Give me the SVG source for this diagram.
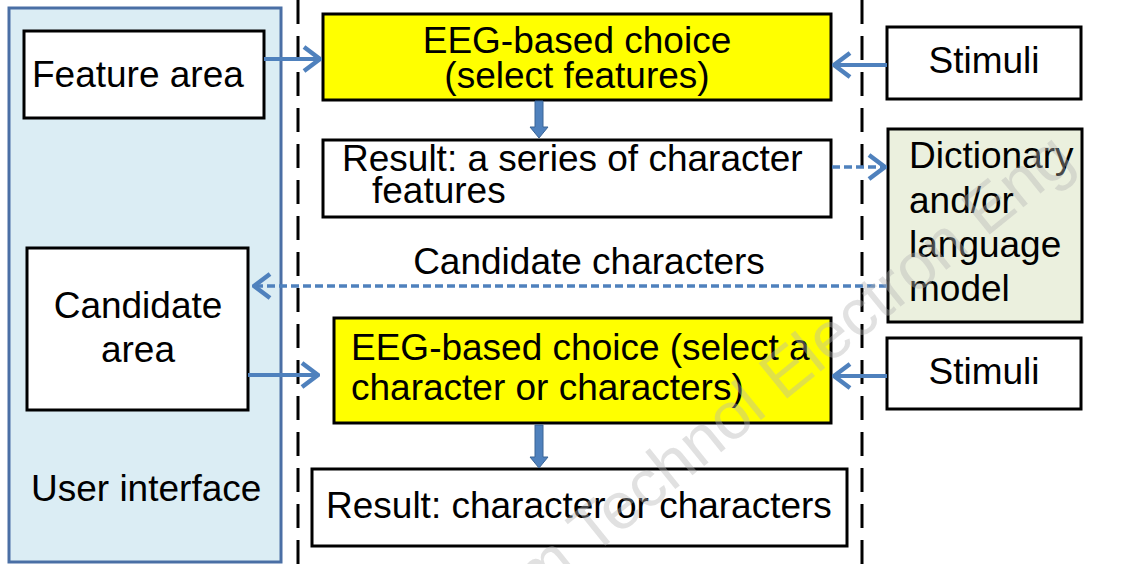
<svg xmlns="http://www.w3.org/2000/svg" width="1122" height="564" viewBox="0 0 1122 564">
  <defs>
    <style>
      .box { fill: #ffffff; stroke: #000000; stroke-width: 3; }
      .hl { fill: #ffff00; stroke: #000000; stroke-width: 3; }
      .dict { fill: #ebf0de; stroke: #000000; stroke-width: 3; }
      .panel { fill: #dbedf4; stroke: #4a6fa5; stroke-width: 3; }
      .lbl { font-family: "Liberation Sans", Arial, sans-serif; font-size: 37px; fill: #000000; }
      .mid { text-anchor: middle; }
      .sep { stroke: #000000; stroke-width: 3; stroke-dasharray: 24 12; fill: none; }
      .flow { stroke: #4f81bd; stroke-width: 4; fill: none; marker-end: url(#chev); }
      .dash { stroke: #4f81bd; stroke-width: 3.5; stroke-dasharray: 8 4; fill: none; marker-end: url(#chev); }
      .down { fill: #4f81bd; stroke: #3a6496; stroke-width: 1; }
      .mark { font-family: "Liberation Sans", Arial, sans-serif; font-size: 66px; fill: #b4b4b4; fill-opacity: 0.4; }
    </style>
    <marker id="chev" markerUnits="userSpaceOnUse" viewBox="0 0 20 28" refX="18" refY="14" markerWidth="20" markerHeight="28" orient="auto">
      <path d="M2,2 L18,14 L2,26" fill="none" stroke="#4f81bd" stroke-width="4.5" stroke-linejoin="miter"/>
    </marker>
  </defs>

  <rect width="1122" height="564" fill="#ffffff"/>

  <!-- column separators -->
  <g id="separators">
    <line class="sep" x1="298" y1="0" x2="298" y2="564"/>
    <line class="sep" x1="862" y1="0" x2="862" y2="564"/>
  </g>

  <!-- user interface panel -->
  <g id="user-interface">
    <rect class="panel" x="9" y="8" width="272" height="554"/>
    <text class="lbl" x="31" y="501">User interface</text>
  </g>

  <g id="feature-area">
    <rect class="box" x="24" y="31" width="240" height="87"/>
    <text class="lbl" x="32" y="87">Feature area</text>
  </g>

  <g id="candidate-area">
    <rect class="box" x="27" y="248" width="221" height="162"/>
    <text class="lbl mid" x="138" y="318">Candidate</text>
    <text class="lbl mid" x="138" y="362">area</text>
  </g>

  <g id="choice-features">
    <rect class="hl" x="323" y="14" width="508" height="86"/>
    <text class="lbl mid" x="577" y="53">EEG-based choice</text>
    <text class="lbl mid" x="577" y="88">(select features)</text>
  </g>

  <g id="result-features">
    <rect class="box" x="323" y="140" width="508" height="77"/>
    <text class="lbl" x="342" y="171">Result: a series of character</text>
    <text class="lbl" x="372" y="203">features</text>
  </g>

  <g id="choice-characters">
    <rect class="hl" x="334" y="318" width="497" height="105"/>
    <text class="lbl" x="351" y="360">EEG-based choice (select a</text>
    <text class="lbl" x="351" y="400">character or characters)</text>
  </g>

  <g id="result-characters">
    <rect class="box" x="312" y="469" width="535" height="77"/>
    <text class="lbl" x="326" y="518">Result: character or characters</text>
  </g>

  <g id="stimuli-top">
    <rect class="box" x="887" y="27" width="194" height="72"/>
    <text class="lbl mid" x="984" y="73">Stimuli</text>
  </g>

  <g id="dictionary">
    <rect class="dict" x="888" y="129" width="194" height="193"/>
    <text class="lbl" x="909" y="168">Dictionary</text>
    <text class="lbl" x="909" y="213">and/or</text>
    <text class="lbl" x="909" y="257">language</text>
    <text class="lbl" x="909" y="301">model</text>
  </g>

  <g id="stimuli-bottom">
    <rect class="box" x="887" y="338" width="194" height="71"/>
    <text class="lbl mid" x="984" y="384">Stimuli</text>
  </g>

  <!-- connectors -->
  <g id="connectors">
    <line class="flow" x1="264" y1="59" x2="320" y2="59"/>
    <line class="flow" x1="887" y1="65" x2="834" y2="65"/>
    <polygon class="down" points="535,101 543,101 543,127 548,127 539,138 530,127 535,127"/>
    <line class="dash" x1="832" y1="167" x2="885" y2="167"/>
    <line class="dash" x1="887" y1="286" x2="254" y2="286"/>
    <text class="lbl mid" x="589" y="274">Candidate characters</text>
    <line class="flow" x1="248" y1="375" x2="318" y2="375"/>
    <line class="flow" x1="887" y1="376" x2="834" y2="376"/>
    <polygon class="down" points="535,425 543,425 543,457 548,457 539,468 530,457 535,457"/>
  </g>

  <!-- faint publisher mark -->
  <text class="mark" transform="translate(536,602) rotate(-39)">m Technol Electron Eng</text>
</svg>
